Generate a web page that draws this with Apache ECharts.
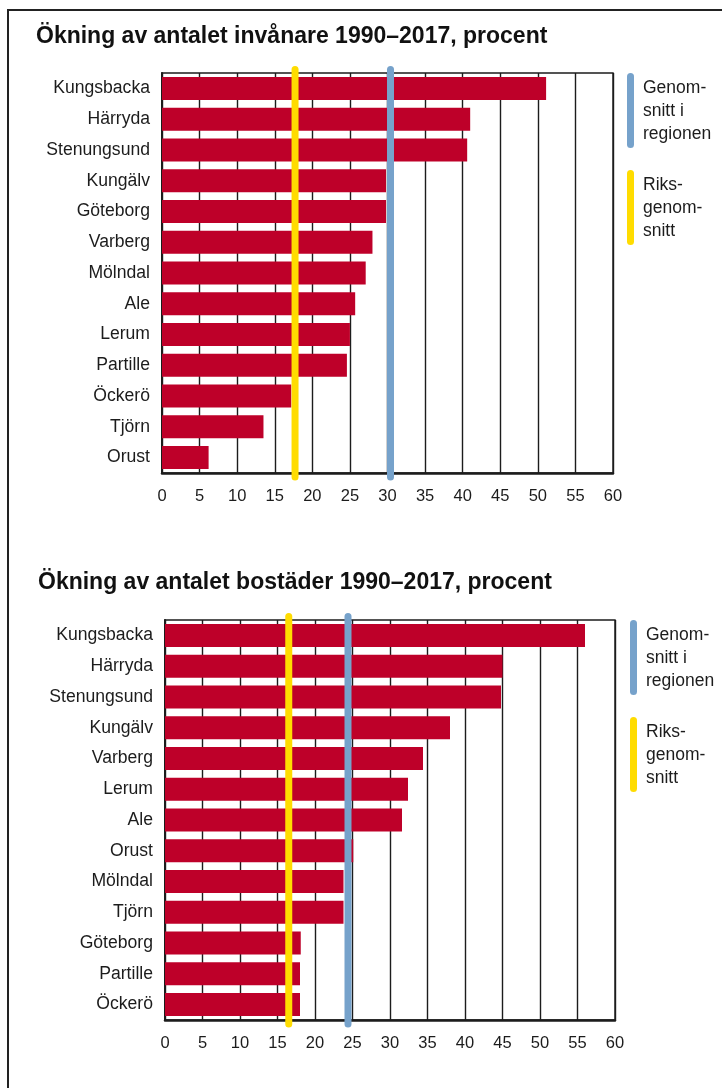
<!DOCTYPE html>
<html><head><meta charset="utf-8">
<script src="https://cdn.jsdelivr.net/npm/echarts@6/dist/echarts.min.js"></script>
<style>
html,body{margin:0;padding:0;background:#fff}
#wrap{position:relative;width:722px;height:1088px}
#c{width:722px;height:1088px}
#frame{position:absolute;left:7px;top:9px;right:0;bottom:0;border-top:2px solid #222;border-left:2px solid #222;pointer-events:none}
</style></head><body>
<div id="wrap"><div id="c"></div><div id="frame"></div></div>
<script>
// ---- Data ----
const titleInv = 'Ökning av antalet invånare 1990–2017, procent';
const kommunerInv = ['Kungsbacka','Härryda','Stenungsund','Kungälv','Göteborg','Varberg','Mölndal','Ale','Lerum','Partille','Öckerö','Tjörn','Orust'];
const valuesInv = [51.1, 41.0, 40.6, 29.8, 29.8, 28.0, 27.1, 25.7, 25.0, 24.6, 17.2, 13.5, 6.2];
const riksInv = 17.7;
const regionInv = 30.4;

const titleBos = 'Ökning av antalet bostäder 1990–2017, procent';
const kommunerBos = ['Kungsbacka','Härryda','Stenungsund','Kungälv','Varberg','Lerum','Ale','Orust','Mölndal','Tjörn','Göteborg','Partille','Öckerö'];
const valuesBos = [56.0, 45.0, 44.8, 38.0, 34.4, 32.4, 31.6, 25.1, 23.8, 23.8, 18.1, 18.0, 18.0];
const riksBos = 16.5;
const regionBos = 24.4;

const xMin = 0, xMax = 60, xStep = 5;
const legendRegion = ['Genom-', 'snitt i', 'regionen'];
const legendRiks = ['Riks-', 'genom-', 'snitt'];

// ---- Styles ----
const RED = '#be0029', YELLOW = '#ffdc00', BLUE = '#76a2cb', INK = '#1c1c1c';
const FONT = '"Liberation Sans", Arial, Helvetica, sans-serif';

const chart = echarts.init(document.getElementById('c'), null, {renderer: 'canvas'});

function xAxisCfg(gi) {
  return {
    type: 'value', gridIndex: gi, min: xMin, max: xMax, interval: xStep,
    axisLine: {show: true, onZero: false, lineStyle: {color: INK, width: 2.5}},
    axisTick: {show: false},
    axisLabel: {color: INK, fontSize: 16.5, fontFamily: FONT, margin: 15},
    splitLine: {show: true, lineStyle: {color: INK, width: 1.4}}
  };
}
function yAxisCfg(gi, cats) {
  return {
    type: 'category', gridIndex: gi, data: cats, inverse: true,
    axisLine: {show: true, lineStyle: {color: INK, width: 2}},
    axisTick: {show: false},
    axisLabel: {color: INK, fontSize: 17.6, fontFamily: FONT, margin: 12}
  };
}
function refLine(gi, value, color) {
  return {
    type: 'custom', xAxisIndex: gi, yAxisIndex: gi, z: 10, clip: false,
    data: [[value, 0]], encode: {x: 0, y: 1},
    renderItem: function (params, api) {
      const x = api.coord([api.value(0), 0])[0];
      const cs = params.coordSys;
      return {
        type: 'line',
        shape: {x1: x, y1: cs.y - 3.5, x2: x, y2: cs.y + cs.height + 4},
        style: {stroke: color, lineWidth: 7, lineCap: 'round'}
      };
    }
  };
}
function legendGraphics(left, top) {
  const g = [];
  const f = '17.5px ' + FONT;
  g.push({type: 'rect', left: left, top: top, shape: {width: 7, height: 75, r: 3.5}, style: {fill: BLUE}});
  g.push({type: 'text', left: left + 16, top: top + 4, style: {text: legendRegion.join('\n'), fill: INK, font: f, lineHeight: 23}});
  g.push({type: 'rect', left: left, top: top + 97, shape: {width: 7, height: 75, r: 3.5}, style: {fill: YELLOW}});
  g.push({type: 'text', left: left + 16, top: top + 101, style: {text: legendRiks.join('\n'), fill: INK, font: f, lineHeight: 23}});
  return g;
}

const option = {
  animation: false,
  backgroundColor: '#fff',
  title: [
    {text: titleInv, left: 36, top: 25, padding: 0, textStyle: {fontSize: 23, fontWeight: 'bold', color: '#111', fontFamily: FONT}},
    {text: titleBos, left: 38, top: 571, padding: 0, textStyle: {fontSize: 23, fontWeight: 'bold', color: '#111', fontFamily: FONT}}
  ],
  grid: [
    {left: 162, top: 73, width: 451, height: 400, show: true, borderColor: INK, borderWidth: 1.4, backgroundColor: '#fff'},
    {left: 165, top: 620, width: 450, height: 400, show: true, borderColor: INK, borderWidth: 1.4, backgroundColor: '#fff'}
  ],
  xAxis: [xAxisCfg(0), xAxisCfg(1)],
  yAxis: [yAxisCfg(0, kommunerInv), yAxisCfg(1, kommunerBos)],
  series: [
    {type: 'bar', xAxisIndex: 0, yAxisIndex: 0, data: valuesInv, barWidth: 23, itemStyle: {color: RED}, z: 3},
    {type: 'bar', xAxisIndex: 1, yAxisIndex: 1, data: valuesBos, barWidth: 23, itemStyle: {color: RED}, z: 3},
    refLine(0, riksInv, YELLOW),
    refLine(0, regionInv, BLUE),
    refLine(1, riksBos, YELLOW),
    refLine(1, regionBos, BLUE)
  ],
  graphic: legendGraphics(627, 73).concat(legendGraphics(630, 620))
};
chart.setOption(option);
</script>
</body></html>
